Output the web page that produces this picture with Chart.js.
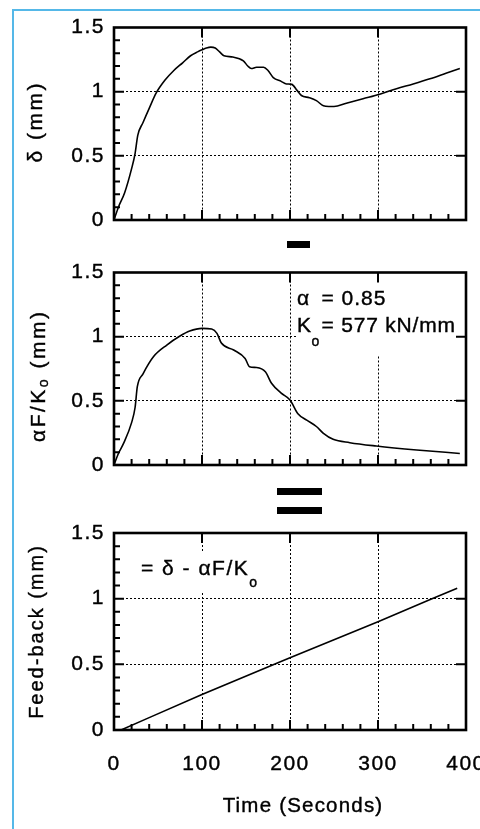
<!DOCTYPE html>
<html>
<head>
<meta charset="utf-8">
<script src="https://cdn.jsdelivr.net/npm/chart.js@4.4.1/dist/chart.umd.min.js"></script>
<style>
  html, body { margin: 0; padding: 0; background: #fff; width: 480px; height: 829px; overflow: hidden; }
  .layer { position: absolute; left: 0; top: 0; }
  #frame { position: absolute; left: 12px; top: 9px; width: 480px; height: 840px;
           border-left: 2px solid #55b8e8; border-top: 2px solid #55b8e8; }
  .op { position: absolute; background: #000; }
</style>
</head>
<body>
<div id="frame"></div>
<!-- operator signs between the panels: minus, then equals -->
<div class="op" style="left:287px;top:241px;width:23px;height:7px"></div>
<div class="op" style="left:277px;top:488px;width:45px;height:7px"></div>
<div class="op" style="left:277px;top:507px;width:45px;height:7px"></div>
<canvas id="pDelta" class="layer" width="480" height="829"></canvas>
<canvas id="pForce" class="layer" width="480" height="829"></canvas>
<canvas id="pFeed" class="layer" width="480" height="829"></canvas>
<script>
// ---- data ----
const timeTicks = [0, 100, 200, 300, 400];
const mmTicks = [0, 0.5, 1, 1.5];

// total displacement delta (mm)
const deltaTime = [0, 5, 12, 20, 24, 27, 33, 40, 48, 58, 68, 78, 87, 95, 100, 105, 110, 115, 120, 125,
                   135, 147, 152, 156, 162, 170, 175, 181, 190, 196, 202, 208, 213, 222, 230, 238, 244,
                   250, 264, 283, 302, 321, 340, 359, 378, 393];
const deltaMm = [0, 0.10, 0.21, 0.40, 0.52, 0.66, 0.76, 0.87, 0.99, 1.09, 1.165, 1.225, 1.28, 1.31, 1.326,
                 1.34, 1.347, 1.34, 1.31, 1.28, 1.27, 1.24, 1.20, 1.18, 1.19, 1.19, 1.165, 1.11, 1.08,
                 1.06, 1.057, 1.01, 0.97, 0.953, 0.93, 0.89, 0.885, 0.885, 0.91, 0.945, 0.98, 1.023,
                 1.06, 1.10, 1.145, 1.18];

// elastic part alpha*F/Ko (mm)
const forceTime = [0, 5, 11, 20, 24, 26.5, 33, 45, 60, 75, 86, 100, 111, 117, 122, 136, 149, 154, 162,
                   172, 179, 190, 200, 209, 219, 230, 238, 249, 268, 298, 344, 393];
const forceMm = [0, 0.09, 0.17, 0.33, 0.45, 0.61, 0.71, 0.845, 0.935, 1.005, 1.044, 1.065, 1.06, 1.026,
                 0.95, 0.896, 0.83, 0.766, 0.76, 0.727, 0.637, 0.56, 0.507, 0.40, 0.35, 0.30, 0.247,
                 0.20, 0.174, 0.148, 0.117, 0.09];

// feed-back = delta - alpha*F/Ko (mm)
const feedTime = [8, 100, 200, 300, 390];
const feedMm = [0, 0.27, 0.55, 0.825, 1.08];

// ---- drawing ----
const FAMILY = "'Liberation Sans', Arial, Helvetica, sans-serif";
const LEFT = 114, RIGHT = 466, W = 480, H = 829;

function rich(ctx, parts, x, y, opts) {
  const o = Object.assign({ align: 'left', rotate: false, size: 20, sub: 14, spacing: 1.5 }, opts);
  ctx.save();
  ctx.translate(x, y);
  if (o.rotate) ctx.rotate(-Math.PI / 2);
  ctx.letterSpacing = o.spacing + 'px';
  ctx.fillStyle = '#000';
  ctx.strokeStyle = '#000';
  ctx.lineWidth = 0.4;
  ctx.textAlign = 'left';
  ctx.textBaseline = 'alphabetic';
  let total = 0;
  parts.forEach(p => {
    ctx.font = (p.dy ? o.sub : o.size) + 'px ' + FAMILY;
    p.w = p.at !== undefined ? 0 : ctx.measureText(p.t).width;
    total += p.w;
  });
  let cx = o.align === 'center' ? -total / 2 : 0;
  parts.forEach(p => {
    ctx.font = (p.dy ? o.sub : o.size) + 'px ' + FAMILY;
    const px = p.at !== undefined ? p.at : cx;
    ctx.fillText(p.t, px, p.dy || 0);
    ctx.strokeText(p.t, px, p.dy || 0);
    cx = px + ctx.measureText(p.t).width;
  });
  ctx.restore();
}

function frameAndTicks(chart) {
  const { ctx, chartArea: a, scales: { x, y } } = chart;
  ctx.save();
  ctx.strokeStyle = '#000';
  ctx.lineCap = 'butt';
  ctx.lineWidth = 2;
  ctx.beginPath();
  // left: minor ticks every 0.1, longer at the half units
  for (let i = 1; i < 15; i++) {
    const py = y.getPixelForValue(i / 10);
    const len = i % 5 === 0 ? 10 : 6;
    ctx.moveTo(a.left, py); ctx.lineTo(a.left + len, py);
  }
  // right: ticks at the labelled values
  [0.5, 1].forEach(v => {
    const py = y.getPixelForValue(v);
    ctx.moveTo(a.right, py); ctx.lineTo(a.right - 10, py);
  });
  // bottom: minor ticks every 20 s, longer at the hundreds
  for (let t = 20; t < 400; t += 20) {
    const px = x.getPixelForValue(t);
    const len = t % 100 === 0 ? 10 : 6;
    ctx.moveTo(px, a.bottom); ctx.lineTo(px, a.bottom - len);
  }
  // top: ticks at the hundreds
  [100, 200, 300].forEach(t => {
    const px = x.getPixelForValue(t);
    ctx.moveTo(px, a.top); ctx.lineTo(px, a.top + 10);
  });
  ctx.stroke();
  ctx.lineWidth = 2.6;
  ctx.strokeRect(a.left, a.top, a.right - a.left, a.bottom - a.top);
  ctx.restore();
}

function panel(id, times, values, top, bottom, showTime, extra) {
  const xAxisH = showTime ? 60 : 0;
  const tickFont = { family: FAMILY, size: 21 };
  const gridColor = c => (c.tick && (c.tick.value === 0 || c.tick.value === 1.5 || c.tick.value === 400))
    ? 'rgba(0,0,0,0)' : '#000';
  return new Chart(document.getElementById(id), {
    type: 'line',
    data: {
      datasets: [{
        data: times.map((t, i) => ({ x: t, y: values[i] })),
        borderColor: '#000', borderWidth: 1.6, pointRadius: 0,
        cubicInterpolationMode: 'monotone', fill: false
      }]
    },
    options: {
      responsive: false, animation: false, events: [],
      layout: { padding: { left: 0, right: W - RIGHT, top: top, bottom: H - bottom - xAxisH } },
      plugins: { legend: { display: false }, tooltip: { enabled: false } },
      scales: {
        x: {
          type: 'linear', min: 0, max: 400,
          afterBuildTicks: s => { s.ticks = timeTicks.map(v => ({ value: v })); },
          ticks: { display: showTime, font: tickFont, color: '#000', padding: 22, maxRotation: 0,
                   autoSkip: false, callback: v => String(v), textStrokeColor: '#000', textStrokeWidth: 0.4 },
          grid: { color: gridColor, lineWidth: 1, drawTicks: false },
          border: { display: false, dash: [2, 2] },
          afterFit: s => { s.height = xAxisH; s.paddingLeft = 0; s.paddingRight = 0; }
        },
        y: {
          type: 'linear', min: 0, max: 1.5,
          afterBuildTicks: s => { s.ticks = mmTicks.map(v => ({ value: v })); },
          ticks: { font: tickFont, color: '#000', padding: 9, callback: v => String(v),
                   textStrokeColor: '#000', textStrokeWidth: 0.4 },
          grid: { color: gridColor, lineWidth: 1, drawTicks: false },
          border: { display: false, dash: [2, 2] },
          afterFit: s => { s.width = LEFT; s.paddingTop = 0; s.paddingBottom = 0; }
        }
      }
    },
    plugins: [{
      id: 'panelDecor',
      beforeLayout: c => { c.ctx.letterSpacing = '1.5px'; },
      beforeDraw: c => { c.ctx.letterSpacing = '1.5px'; },
      beforeDatasetsDraw: c => {
        if (extra.mask) {
          const m = extra.mask;
          c.ctx.save(); c.ctx.fillStyle = '#fff'; c.ctx.fillRect(m[0], m[1], m[2], m[3]); c.ctx.restore();
        }
      },
      afterDraw: c => { frameAndTicks(c); extra.text(c.ctx, c.chartArea); }
    }]
  });
}

panel('pDelta', deltaTime, deltaMm, 27.5, 220, false, {
  text: (ctx, a) => {
    rich(ctx, [{ t: 'δ (mm)' }], 42, (a.top + a.bottom) / 2 - 2, { align: 'center', rotate: true, size: 21, spacing: 2.5 });
  }
});

panel('pForce', forceTime, forceMm, 272.5, 465, false, {
  mask: [296, 274, 166, 81],
  text: (ctx, a) => {
    rich(ctx, [{ t: 'αF/K' }, { t: 'o', dy: 3 }, { t: ' (mm)' }], 45, (a.top + a.bottom) / 2 + 7,
         { align: 'center', rotate: true, size: 21, sub: 14, spacing: 2.5 });
    rich(ctx, [{ t: 'α', at: 0 }, { t: '= 0.85', at: 24.5 }], 297, 305, { spacing: 1, size: 21 });
    rich(ctx, [{ t: 'K', at: 0 }, { t: 'o', dy: 14, at: 14.5 }, { t: '= 577 kN/mm', at: 24.5 }], 297, 332,
         { spacing: 0.8, size: 21 });
  }
});

panel('pFeed', feedTime, feedMm, 533, 730, true, {
  mask: [138, 553, 124, 39],
  text: (ctx, a) => {
    rich(ctx, [{ t: 'Feed-back (mm)' }], 43, (a.top + a.bottom) / 2, { align: 'center', rotate: true, size: 20, spacing: 2 });
    rich(ctx, [{ t: '= δ - αF/K' }, { t: 'o', dy: 12 }], 141, 575, { spacing: 1.5, size: 21 });
    rich(ctx, [{ t: 'Time (Seconds)' }], 303, 812, { align: 'center', spacing: 1.2, size: 20.5 });
  }
});
</script>
</body>
</html>
